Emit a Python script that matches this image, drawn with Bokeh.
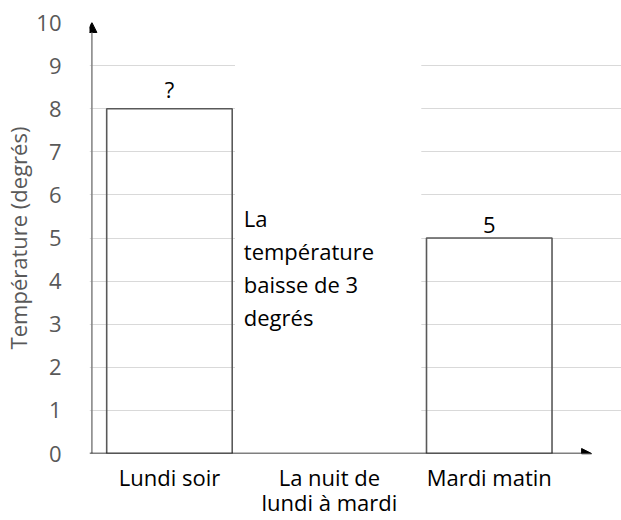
from bokeh.plotting import figure
from bokeh.models import Range1d, FixedTicker, Arrow, NormalHead, BoxAnnotation, Label
from bokeh.embed import file_html
from bokeh.resources import INLINE
from bokeh.core.properties import value

categories = ["Lundi soir", "La nuit de\nlundi à mardi", "Mardi matin"]
bar_categories = ["Lundi soir", "Mardi matin"]
bar_values = [8, 5]
bar_labels = ["?", "5"]
y_ticks = list(range(0, 11))
note_lines = ["La", "température", "baisse de 3", "degrés"]

FONT = "Open Sans"
cat_pos = {c: i + 0.5 for i, c in enumerate(categories)}
label_to_cat = {"Lundi soir": categories[0], "Mardi matin": categories[2]}
bar_x = [cat_pos[label_to_cat[c]] for c in bar_categories]

p = figure(width=621, height=520, output_backend="svg", toolbar_location=None,
           x_range=Range1d(0, 3.327), y_range=Range1d(0, 10),
           min_border_left=87, min_border_right=0, min_border_top=22, min_border_bottom=66)
p.outline_line_color = None
p.background_fill_color = "white"
p.border_fill_color = "white"

# grid
p.xgrid.visible = False
p.ygrid.ticker = FixedTicker(ticks=y_ticks)
p.ygrid.grid_line_color = "#d9d9d9"
p.ygrid.grid_line_width = 1

# white text box covering gridlines
p.add_layout(BoxAnnotation(left=0.91, right=2.075, bottom=0.05, top=9.92,
                           fill_color="white", fill_alpha=1, line_color=None, level="underlay"))

# bars (no fill)
p.vbar(x=bar_x, top=bar_values, width=0.785, bottom=0, fill_color=None,
       line_color="#595959", line_width=1.6)

# value labels
p.text(x=bar_x, y=bar_values, text=bar_labels, text_align="center", text_baseline="bottom",
       y_offset=-5, text_font=value(FONT), text_font_size="22px", text_color="#000000")

# note text
for i, line in enumerate(note_lines):
    p.add_layout(Label(x=0.965, y=5.46, x_offset=0, y_offset=-i * 33, text=line,
                       text_font=FONT, text_font_size="22px", text_color="#000000",
                       text_baseline="middle", text_align="left"))

# axes
p.yaxis.ticker = FixedTicker(ticks=y_ticks)
p.yaxis.axis_line_color = None
p.yaxis.major_tick_line_color = None
p.yaxis.minor_tick_line_color = None
p.yaxis.major_label_standoff = 22
p.yaxis.major_label_text_font = FONT
p.yaxis.major_label_text_font_size = "22px"
p.yaxis.major_label_text_color = "#595959"
p.yaxis.axis_label = "Température (degrés)"
p.yaxis.axis_label_text_font = FONT
p.yaxis.axis_label_text_font_size = "22px"
p.yaxis.axis_label_text_font_style = "normal"
p.yaxis.axis_label_text_color = "#595959"
p.yaxis.axis_label_standoff = 0

p.xaxis.ticker = FixedTicker(ticks=[cat_pos[c] for c in categories])
p.xaxis.major_label_overrides = {cat_pos[c]: c for c in categories}
p.xaxis.axis_line_color = None
p.xaxis.major_tick_line_color = None
p.xaxis.minor_tick_line_color = None
p.xaxis.major_label_standoff = 2
p.xaxis.major_label_text_font = FONT
p.xaxis.major_label_text_font_size = "22px"
p.xaxis.major_label_text_line_height = 0.85
p.xaxis.major_label_text_color = "#000000"

# axis arrows
p.add_layout(Arrow(x_start=0.015, y_start=0, x_end=0.015, y_end=10,
                   line_color="#808080", line_width=1.5,
                   end=NormalHead(size=10, fill_color="black", line_color="black")))
p.add_layout(Arrow(x_start=0.0, y_start=0, x_end=3.14, y_end=0,
                   line_color="black", line_width=1.5,
                   end=NormalHead(size=10, fill_color="black", line_color="black")))

open("out.html", "w").write(file_html(p, INLINE))
